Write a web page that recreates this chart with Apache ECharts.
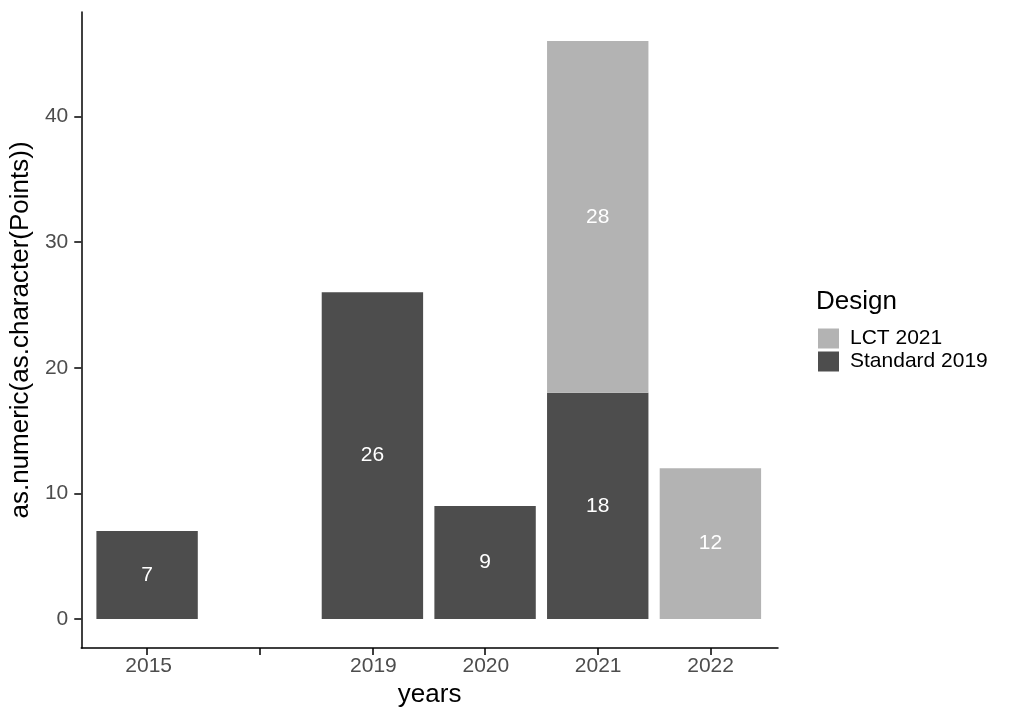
<!DOCTYPE html>
<html>
<head>
<meta charset="utf-8">
<script src="https://cdn.jsdelivr.net/npm/echarts@6/dist/echarts.min.js"></script>
<style>html,body{margin:0;padding:0;background:#fff;}#c{width:1020px;height:723px;}</style>
</head>
<body>
<div id="c"></div>
<script>
const categories = ['2015', '', '2019', '2020', '2021', '2022'];
const standard2019 = [7, null, 26, 9, 18, null];
const lct2021 = [null, null, null, null, 28, 12];
const yTicks = [0, 10, 20, 30, 40];

const font = 'Liberation Sans, Arial, sans-serif';
// ggplot-style expansion: 0.6 category units on each side of the discrete axis
const panelLeft = 79.5, panelRight = 242, panelW = 1020 - panelLeft - panelRight;
const unit = panelW / (categories.length + 0.2);
const pad = 0.1 * unit;
const catPos = categories.map((c, i) => i + 1);

const labelOpt = {
  show: true, position: 'inside', color: '#fff', fontSize: 21, fontFamily: font,
  formatter: p => (p.value == null || p.value === '-') ? '' : String(p.value)
};

const chart = echarts.init(document.getElementById('c'));
chart.setOption({
  animation: false,
  backgroundColor: '#fff',
  textStyle: { fontFamily: font },
  title: {
    text: 'Design', left: 816, top: 289, padding: 0,
    textStyle: { fontFamily: font, fontSize: 26, fontWeight: 'normal', color: '#000' }
  },
  legend: {
    orient: 'vertical', left: 818, top: 328, padding: 0,
    itemWidth: 21, itemHeight: 20, itemGap: 2,
    icon: 'rect',
    data: ['LCT 2021', 'Standard 2019'],
    textStyle: { fontFamily: font, fontSize: 21, color: '#000', padding: [0, 0, 0, 6] }
  },
  grid: [
    { left: panelLeft + pad, right: panelRight + pad, top: 12, bottom: 75, containLabel: false },
    { left: panelLeft, right: panelRight, top: 12, bottom: 75, containLabel: false }
  ],
  xAxis: [
    {
      type: 'category', gridIndex: 0, data: categories, boundaryGap: true,
      axisLine: { show: false, onZero: false },
      axisTick: { show: true, alignWithLabel: true, interval: 0, length: 7, lineStyle: { color: '#000', width: 1.5 } },
      axisLabel: { show: false },
      splitLine: { show: false }
    },
    {
      type: 'value', gridIndex: 1, min: 0.4, max: categories.length + 0.6,
      splitLine: { show: false },
      axisLine: { show: true, onZero: false, lineStyle: { color: '#000', width: 1.5 } },
      axisTick: { show: false },
      axisLabel: {
        customValues: catPos, margin: 10, lineHeight: 16, fontSize: 21, color: '#4D4D4D', fontFamily: font,
        formatter: v => categories[Math.round(v) - 1] ?? ''
      },
      name: 'years', nameLocation: 'middle', nameGap: 34,
      nameTextStyle: { fontSize: 26, color: '#000', fontFamily: font }
    }
  ],
  yAxis: [
    { type: 'value', gridIndex: 0, min: -2.3, max: 48.3, show: false },
    {
      type: 'value', gridIndex: 1, min: -2.3, max: 48.3,
      splitLine: { show: false },
      axisLine: { show: true, onZero: false, lineStyle: { color: '#000', width: 1.5 } },
      axisTick: { show: true, customValues: yTicks, length: 7, lineStyle: { color: '#000', width: 1.5 } },
      axisLabel: { customValues: yTicks, margin: 13, fontSize: 21, color: '#4D4D4D', fontFamily: font },
      name: 'as.numeric(as.character(Points))', nameLocation: 'middle', nameGap: 40,
      nameTextStyle: { fontSize: 26, color: '#000', fontFamily: font }
    }
  ],
  series: [
    {
      name: 'Standard 2019', type: 'bar', stack: 'total', barWidth: '90%',
      xAxisIndex: 0, yAxisIndex: 0,
      itemStyle: { color: '#4D4D4D' },
      label: labelOpt,
      data: standard2019
    },
    {
      name: 'LCT 2021', type: 'bar', stack: 'total', barWidth: '90%',
      xAxisIndex: 0, yAxisIndex: 0,
      itemStyle: { color: '#B3B3B3' },
      label: labelOpt,
      data: lct2021
    }
  ]
});
</script>
</body>
</html>
